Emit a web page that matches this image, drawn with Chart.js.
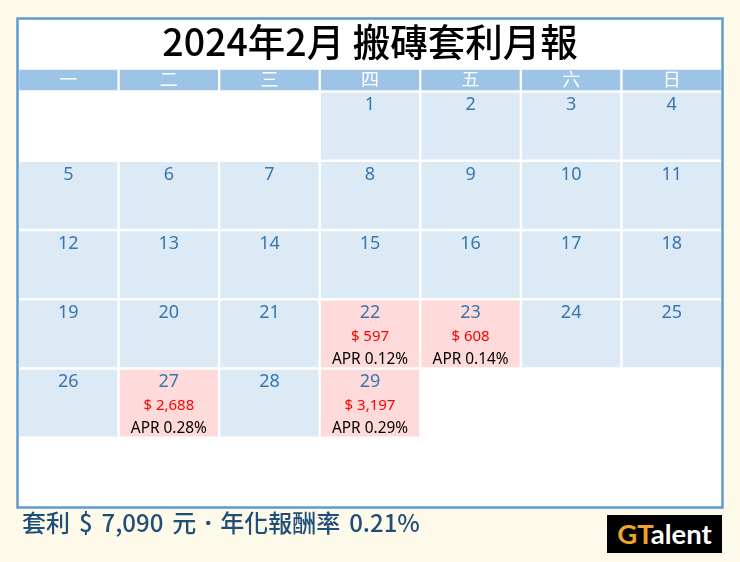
<!DOCTYPE html>
<html>
<head>
<meta charset="utf-8">
<script src="https://cdn.jsdelivr.net/npm/chart.js@4"></script>
<style>
  html, body { margin: 0; padding: 0; background: #fefaea; overflow: hidden; }
  #wrap { position: relative; width: 740px; height: 562px; }
  canvas { position: absolute; left: 0; top: 0; }
  #summary {
    position: absolute; left: 22px; top: 504px; white-space: nowrap; word-spacing: 3.5px;
    font: 500 24px/36px "Noto Sans CJK TC", "Noto Sans", sans-serif; color: #1f4e79;
  }
  #logo {
    position: absolute; left: 607px; top: 515px; width: 115px; height: 38px; background: #000;
    text-align: center; font: 700 27.5px/38px Lato, sans-serif; color: #fff;
  }
  #logo span { color: #f0a32c; }
</style>
</head>
<body>
<div id="wrap">
  <canvas id="calendar" width="740" height="562"></canvas>
  <div id="summary">套利 $ 7,090 元．年化報酬率 0.21%</div>
  <div id="logo"><span>GT</span>alent</div>
</div>
<script>
const titleText = '2024年2月 搬磚套利月報';
const weekdays = ['一', '二', '三', '四', '五', '六', '日'];
const week1 = [null, null, null, 1, 2, 3, 4];
const week2 = [5, 6, 7, 8, 9, 10, 11];
const week3 = [12, 13, 14, 15, 16, 17, 18];
const week4 = [19, 20, 21, 22, 23, 24, 25];
const week5 = [26, 27, 28, 29, null, null, null];
const weeks = [week1, week2, week3, week4, week5];
const arbDays = [22, 23, 27, 29];
const arbProfits = [597, 608, 2688, 3197];
const arbApr = [0.12, 0.14, 0.28, 0.29];

const headerColour = '#9dc3e6';
const cellColour = '#dceaf5';
const arbColour = '#ffdada';

function barDataset(data, colours) {
    return {
        data: data,
        backgroundColor: colours,
        borderColor: '#ffffff',
        borderWidth: 1.5,
        borderSkipped: false,
        grouped: false,
        barPercentage: 1,
        categoryPercentage: 1
    };
}

// header band sits above the y range, behind the weekday ticks, so it must not be clipped
const headerBand = barDataset(weekdays.map(() => [-0.33, 0]), headerColour);
headerBand.clip = false;

const datasets = [headerBand];
weeks.forEach((week, w) => {
    datasets.push(barDataset(
        week.map(day => day === null ? null : [w, w + 1]),
        week.map(day => arbDays.includes(day) ? arbColour : cellColour)
    ));
});

const framePlugin = {
    id: 'frame',
    beforeDraw(chart) {
        const c = chart.ctx;
        c.save();
        c.fillStyle = '#ffffff';
        c.fillRect(17, 18, 706, 489);
        c.restore();
    },
    afterDraw(chart) {
        const c = chart.ctx;
        c.save();
        c.strokeStyle = '#5f9bd0';
        c.lineWidth = 2.5;
        c.strokeRect(17.5, 18.5, 705, 489);
        c.restore();
    }
};

// day numbers and the arbitrage figures, placed through the chart's scales
const dayLabels = {
    id: 'dayLabels',
    afterDatasetsDraw(chart) {
        const c = chart.ctx;
        const x = chart.scales.x;
        const y = chart.scales.y;
        c.save();
        c.textAlign = 'center';
        c.textBaseline = 'middle';
        weeks.forEach((week, w) => {
            week.forEach((day, d) => {
                if (day === null) return;
                const px = x.getPixelForValue(d);
                c.font = '18px "Noto Sans", sans-serif';
                c.fillStyle = '#3a75ad';
                c.fillText(day, px, y.getPixelForValue(w + 0.2));
                const i = arbDays.indexOf(day);
                if (i < 0) return;
                c.font = '15px "Noto Sans", sans-serif';
                c.fillStyle = '#ff0000';
                c.fillText('$ ' + arbProfits[i].toLocaleString('en-US'), px, y.getPixelForValue(w + 0.54));
                c.font = '15.4px "Noto Sans", sans-serif';
                c.fillStyle = '#000000';
                c.fillText('APR ' + arbApr[i].toFixed(2) + '%', px, y.getPixelForValue(w + 0.87));
            });
        });
        c.restore();
    }
};

new Chart(document.getElementById('calendar'), {
    type: 'bar',
    data: { labels: weekdays, datasets: datasets },
    plugins: [framePlugin, dayLabels],
    options: {
        responsive: false,
        animation: false,
        layout: { padding: { left: 18, right: 18, top: 18, bottom: 55 } },
        plugins: {
            legend: { display: false },
            tooltip: { enabled: false },
            title: {
                display: true,
                text: titleText,
                color: '#000000',
                font: { family: '"Noto Sans CJK TC"', size: 37.5, weight: '500', lineHeight: 1 },
                padding: { top: 5, bottom: 8 }
            }
        },
        scales: {
            x: {
                position: 'top',
                afterFit(scale) { scale.height = 23; },
                grid: { display: false, drawTicks: false },
                border: { display: false },
                ticks: {
                    z: 1,
                    padding: 2,
                    color: '#ffffff',
                    maxRotation: 0,
                    font: { family: '"Noto Sans CJK TC"', size: 18 }
                }
            },
            y: { display: false, reverse: true, min: 0, max: 6 }
        }
    }
});
</script>
</body>
</html>
